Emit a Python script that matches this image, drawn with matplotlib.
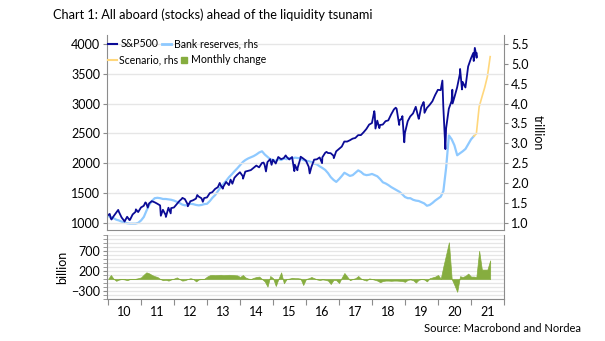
import matplotlib
matplotlib.use("Agg")
import matplotlib.pyplot as plt
import matplotlib.dates as mdates
from matplotlib.lines import Line2D
from matplotlib.ticker import MultipleLocator, NullFormatter
import pandas as pd

plt.rcParams['font.family'] = ['Lato', 'DejaVu Sans']

# S&P500 month-end closes, Jan 2010 - Feb 2021
spx_month_end = [
    1073.9, 1104.5, 1169.4, 1186.7, 1089.4, 1030.7, 1101.6, 1049.3, 1141.2, 1183.3, 1180.6, 1257.6,
    1286.1, 1327.2, 1325.8, 1363.6, 1345.2, 1320.6, 1292.3, 1218.9, 1131.4, 1253.3, 1247.0, 1257.6,
    1312.4, 1365.7, 1408.5, 1397.9, 1310.3, 1362.2, 1379.3, 1406.6, 1440.7, 1412.2, 1416.2, 1426.2,
    1498.1, 1514.7, 1569.2, 1597.6, 1630.7, 1606.3, 1685.7, 1633.0, 1681.6, 1756.5, 1805.8, 1848.4,
    1782.6, 1859.5, 1872.3, 1884.0, 1923.6, 1960.2, 1930.7, 2003.4, 1972.3, 2018.1, 2067.6, 2058.9,
    1995.0, 2104.5, 2067.9, 2085.5, 2107.4, 2063.1, 2103.8, 1972.2, 1920.0, 2079.4, 2080.4, 2043.9,
    1940.2, 1932.2, 2059.7, 2065.3, 2097.0, 2098.9, 2173.6, 2171.0, 2168.3, 2126.2, 2198.8, 2238.8,
    2278.9, 2363.6, 2362.7, 2384.2, 2411.8, 2423.4, 2470.3, 2471.7, 2519.4, 2575.3, 2647.6, 2673.6,
    2823.8, 2713.8, 2640.9, 2648.1, 2705.3, 2718.4, 2816.3, 2901.5, 2914.0, 2711.7, 2760.2, 2506.9,
    2704.1, 2784.5, 2834.4, 2945.8, 2752.1, 2941.8, 2980.4, 2926.5, 2976.7, 3037.6, 3141.0, 3230.8,
    3225.5, 2954.2, 2584.6, 2912.4, 3044.3, 3100.3, 3271.1, 3500.3, 3363.0, 3270.0, 3621.6, 3756.1,
    3714.2, 3811.2,
]

# intra-month highs and lows
spx_extra_dates = [
    "2010-01-04", "2010-01-19", "2010-02-08", "2010-04-23", "2010-07-02", "2010-08-26", "2010-11-05",
    "2011-02-18", "2011-03-16", "2011-08-08", "2011-10-03", "2011-11-25",
    "2012-04-02", "2012-06-01", "2012-09-14", "2012-11-15",
    "2013-05-21", "2013-06-24", "2013-09-18", "2013-10-08",
    "2014-02-03", "2014-09-18", "2014-10-15", "2014-12-16",
    "2015-05-21", "2015-08-25", "2015-09-28", "2015-11-03",
    "2016-02-11", "2016-06-27", "2016-08-15", "2016-11-04",
    "2018-01-26", "2018-02-08", "2018-03-23", "2018-09-20", "2018-10-29", "2018-12-03", "2018-12-24",
    "2019-04-30", "2019-06-03", "2019-07-26", "2019-08-05",
    "2020-02-19", "2020-03-23", "2020-06-08", "2020-06-11", "2020-09-02", "2020-09-23",
    "2021-01-26", "2021-02-12", "2021-03-04", "2021-03-05",
]
spx_extra_vals = [
    1133, 1150, 1056, 1217, 1022, 1047, 1226,
    1343, 1256, 1119, 1099, 1159,
    1419, 1278, 1466, 1353,
    1669, 1573, 1725, 1656,
    1741, 2011, 1862, 1973,
    2131, 1867, 1882, 2109,
    1829, 2001, 2190, 2085,
    2873, 2581, 2588, 2931, 2641, 2790, 2351,
    2946, 2744, 3026, 2845,
    3386, 2237, 3232, 3002, 3580, 3237,
    3849, 3934, 3768, 3841,
]

# bank reserves (trillion), monthly Jan 2010 - Feb 2021
reserves = [
    1.17, 1.15, 1.12, 1.08, 1.06, 1.03, 1.01, 0.99, 0.98, 0.98, 0.98, 1.00,
    1.06, 1.15, 1.30, 1.45, 1.55, 1.62, 1.63, 1.62, 1.60, 1.60, 1.59, 1.58,
    1.56, 1.53, 1.50, 1.46, 1.44, 1.45, 1.48, 1.47, 1.45, 1.44, 1.45, 1.47,
    1.48, 1.55, 1.63, 1.70, 1.80, 1.90, 1.98, 2.06, 2.15, 2.22, 2.30, 2.37,
    2.45, 2.53, 2.58, 2.62, 2.65, 2.68, 2.72, 2.77, 2.80, 2.72, 2.66, 2.60,
    2.58, 2.56, 2.60, 2.58, 2.62, 2.60, 2.63, 2.62, 2.64, 2.63, 2.62, 2.58,
    2.56, 2.55, 2.53, 2.49, 2.47, 2.42, 2.38, 2.33, 2.25, 2.15, 2.08, 2.03,
    2.10, 2.18, 2.26, 2.22, 2.18, 2.20, 2.26, 2.32, 2.28, 2.22, 2.20, 2.21,
    2.23, 2.20, 2.17, 2.10, 2.02, 1.99, 1.95, 1.90, 1.86, 1.82, 1.78, 1.72,
    1.65, 1.62, 1.62, 1.58, 1.56, 1.55, 1.52, 1.49, 1.43, 1.45, 1.50, 1.56,
    1.61, 1.66, 1.80, 2.40, 3.20, 3.10, 2.95, 2.70, 2.75, 2.80, 2.86, 2.98,
    3.10, 3.18,
]

# scenario (trillion), Feb 2021 - Aug 2021
scenario = [3.18, 3.24, 3.92, 4.16, 4.40, 4.68, 5.18]

# monthly change (billion), Jan 2010 - Aug 2021
monthly_change = [
    0, 100, 10, -45, -15, 0, -10, -30, 0, 0, 5, 20,
    40, 110, 166, 140, 100, 70, 50, 0, -30, -20, -40, -10,
    10, 40, 0, -40, -30, 0, 20, 0, -60, -10, 0, 5,
    60, 95, 100, 95, 100, 105, 95, 100, 105, 100, 95, 90,
    50, 100, 40, 10, 0, 30, 50, 60, 0, -60, -190, 75,
    20, -175, 0, 166, -107, 0, 10, 30, 20, 20, 10, -150,
    0, 20, 50, 20, -10, -25, -10, -20, -40, -125, -20, -30,
    -100, 40, 150, 60, -30, 0, 20, 75, 10, -20, -40, 15,
    0, -20, -40, -80, -50, -40, -40, -45, -40, -40, -45, -50,
    -70, -20, -10, -30, -90, -20, 0, -10, -60, 20, 40, 60,
    100, 10, 320, 620, 917, 0, -150, -320, 70, 50, 80, 135,
    60, 60, 50, 704, 235, 235, 235, 466,
]

left_ticks = [1000, 1500, 2000, 2500, 3000, 3500, 4000]
right_ticks = [1.0, 1.5, 2.0, 2.5, 3.0, 3.5, 4.0, 4.5, 5.0, 5.5]
bottom_ticks = [-300, 200, 700]

NAVY = "#0b0b96"
LIGHT = "#8ec9ff"
YELLOW = "#ffd77c"
GREEN = "#86ad3f"
SPINE = "#8c8c8c"
GRID = "#e6e6e6"


def main():
    months = pd.date_range("2010-01-01", periods=len(monthly_change), freq="MS")
    res_dates = months[:len(reserves)]
    scen_dates = months[len(reserves) - 1:]

    spx_me_dates = pd.date_range("2010-01-01", periods=len(spx_month_end), freq="MS") + pd.offsets.MonthEnd(0)
    spx = pd.Series(spx_month_end, index=spx_me_dates)
    spx = pd.concat([spx, pd.Series(spx_extra_vals, index=pd.to_datetime(spx_extra_dates))]).sort_index()

    fig = plt.figure(figsize=(6.05, 3.41), dpi=100)
    x0, x1 = 107 / 605, 504 / 605
    ax = fig.add_axes([x0, 1 - 230 / 341, x1 - x0, 195 / 341])
    axb = fig.add_axes([x0, 1 - 299 / 341, x1 - x0, 64 / 341], sharex=ax)
    ax2 = ax.twinx()
    ax2.set_zorder(1)
    ax.set_zorder(2)
    ax.patch.set_visible(False)

    ax2.plot(res_dates, reserves, color=LIGHT, lw=1.6)
    ax2.plot(scen_dates, scenario, color=YELLOW, lw=1.2)
    ax.plot(spx.index, spx.values, color=NAVY, lw=1.3)

    ax.set_ylim(880, 4150)
    ax2.set_ylim(0.82, 5.725)
    ax.set_yticks(left_ticks)
    ax2.set_yticks(right_ticks)
    ax2.yaxis.set_major_formatter("{x:.1f}")
    ax.grid(axis="y", color=GRID, lw=1.0)
    ax.set_axisbelow(True)

    for s in ["top", "right"]:
        ax.spines[s].set_visible(False)
    for s in ["top", "left", "bottom"]:
        ax2.spines[s].set_visible(False)
    for a in (ax, ax2):
        for s in a.spines.values():
            s.set_color(SPINE)
    ax.tick_params(axis="x", which="both", bottom=False, labelbottom=False)
    ax2.tick_params(axis="x", which="both", bottom=False, labelbottom=False)
    ax.tick_params(axis="y", length=3, color=SPINE, labelsize=9, pad=2)
    ax2.tick_params(axis="y", length=3, color=SPINE, labelsize=9, pad=2)
    ax2.set_ylabel("trillion", rotation=270, fontsize=9, labelpad=11)

    # legend, two rows
    h1 = [Line2D([], [], color=NAVY, lw=1.5), Line2D([], [], color=LIGHT, lw=2)]
    leg1 = ax.legend(h1, ["S&P500", "Bank reserves, rhs"], ncol=2, loc="center left",
                     bbox_to_anchor=(0.002, 0.955), frameon=False, fontsize=7.6,
                     handlelength=0.9, handletextpad=0.3, columnspacing=0.3,
                     borderaxespad=0, borderpad=0)
    ax.add_artist(leg1)
    h2 = [Line2D([], [], color=YELLOW, lw=1.5),
          Line2D([], [], marker="s", ls="none", color=GREEN, markersize=4.5)]
    ax.legend(h2, ["Scenario, rhs", "Monthly change"], ncol=2, loc="center left",
              bbox_to_anchor=(0.002, 0.872), frameon=False, fontsize=7.6,
              handlelength=0.9, handletextpad=0.2, columnspacing=0.1,
              borderaxespad=0, borderpad=0)

    # monthly change panel
    axb.fill_between(months, 0, monthly_change, color=GREEN, lw=0.5, edgecolor=GREEN)
    axb.set_ylim(-500, 1100)
    axb.set_yticks(bottom_ticks)
    axb.yaxis.set_minor_locator(MultipleLocator(100))
    axb.grid(axis="y", which="both", color=GRID, lw=0.9)
    axb.set_axisbelow(True)
    axb.spines["top"].set_visible(False)
    for s in axb.spines.values():
        s.set_color(SPINE)
    axb.tick_params(axis="y", which="both", length=3, color=SPINE, labelsize=9, pad=2)
    axb.set_ylabel("billion", fontsize=9, labelpad=2)

    axb.xaxis.set_major_locator(mdates.YearLocator())
    axb.xaxis.set_major_formatter(NullFormatter())
    axb.xaxis.set_minor_locator(mdates.MonthLocator(bymonth=7, bymonthday=1))
    axb.xaxis.set_minor_formatter(mdates.DateFormatter("%y"))
    axb.tick_params(axis="x", which="major", length=4, color=SPINE)
    axb.tick_params(axis="x", which="minor", length=0, labelsize=9, pad=5)
    axb.set_xlim(pd.Timestamp("2009-12-20"), pd.Timestamp("2022-01-01"))

    fig.text(53 / 605, 1 - 15 / 341, "Chart 1: All aboard (stocks) ahead of the liquidity tsunami",
             fontsize=9.2, va="center", ha="left")
    fig.text(581 / 605, 1 - 328 / 341, "Source: Macrobond and Nordea",
             fontsize=8, va="center", ha="right")

    fig.savefig("out.png", dpi=100)


if __name__ == "__main__":
    main()
